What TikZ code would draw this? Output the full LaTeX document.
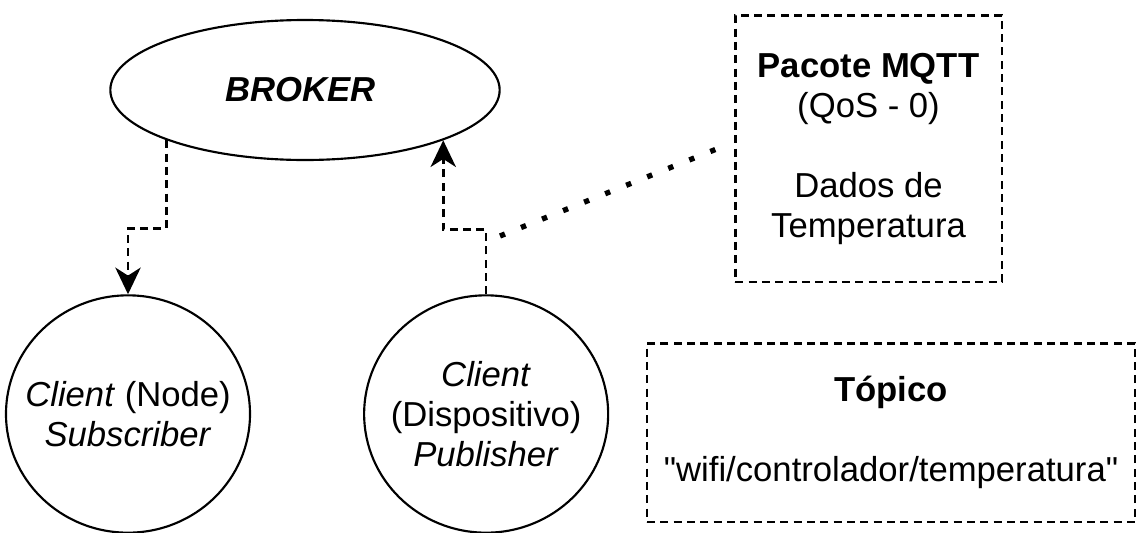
\documentclass[tikz,border=0pt]{standalone}
\usepackage{fontspec}
\setmainfont{Liberation Sans}[Ligatures = TeXOff]
\usepackage{tikz}
\usetikzlibrary{positioning, shapes.geometric, arrows.meta}

\begin{document}
\begin{tikzpicture}[x = 0.75pt, y = -0.75pt,
    every node/.style = { align = center, font = \fontsize{26}{30}\selectfont, inner sep = 0pt },
    client/.style = { draw, shape = ellipse, line width = 1.6pt, minimum width = 183pt, minimum height = 178pt },
    infobox/.style = { draw, line width = 2pt, dash pattern = on 6pt off 4pt },
    link/.style = { line width = 2pt, dash pattern = on 6pt off 4pt },
    pkt/.style = { line width = 4pt, dash pattern = on 4pt off 13pt }]
    \useasboundingbox (0, 0) rectangle (1138, 532);

    \node[draw, shape = ellipse, line width = 1.6pt, minimum width = 292pt, minimum height = 105pt] (broker) at (305, 90) { };
    \node (brokertext) at (broker) { \textbf{\textit{BROKER}} };
    \node[client] (sub) at (128, 414) { };
    \node[client, right = 84pt of sub] (pub) { };
    \node (subtext) at (sub) { \textit{Client} (Node)\\ \textit{Subscriber} };
    \node (pubtext) at (pub) { \textit{Client}\\ (Dispositivo)\\ \textit{Publisher} };

    \node[infobox, minimum width = 200pt, minimum height = 200pt] (pacote) at (868.5, 148.5) { \textbf{Pacote MQTT}\\ (QoS - 0)\\[30pt] Dados de\\ Temperatura };
    \node[infobox, minimum width = 366pt, minimum height = 134pt] (topico) at (891, 432.5) { \textbf{Tópico}\\[30pt] "wifi/controlador/temperatura" };

    \draw[link, ->, >={Stealth[length = 20pt, width = 19pt, inset = 6pt]}] (broker.200.5) -- ++(0, 88) -| (sub.north);
    \draw[link, ->, >={Stealth[length = 20pt, width = 19pt, inset = 6pt]}] (pub.north) -- ++(0, -65) -| (broker.340);

    \coordinate (dotstart) at (500, 236);
    \draw[pkt] (dotstart) -- ([xshift = -12pt] pacote.west);
  \end{tikzpicture}
\end{document}
